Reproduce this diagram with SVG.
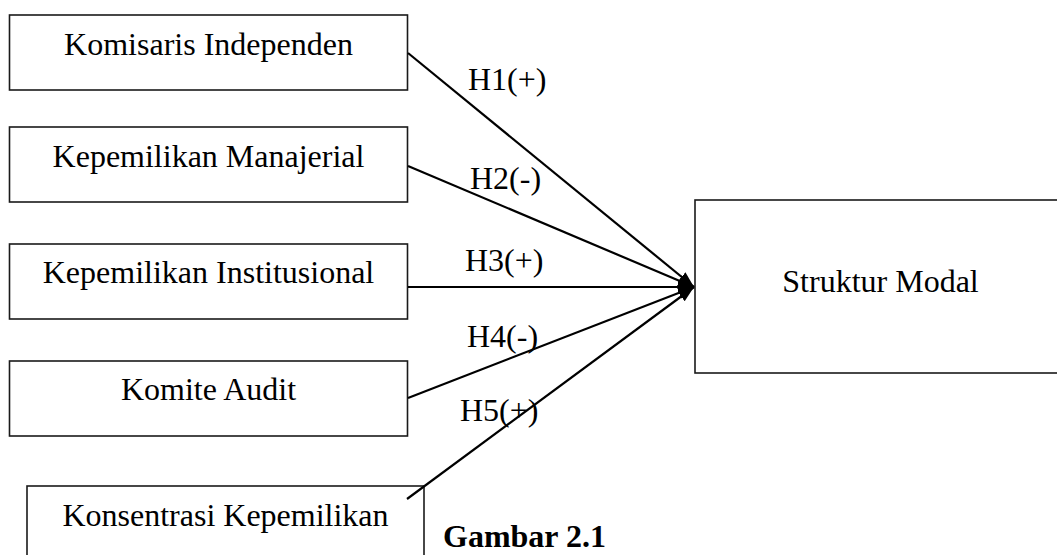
<svg xmlns="http://www.w3.org/2000/svg" width="1057" height="555" viewBox="0 0 1057 555">
<defs>
<style>
.box{fill:#fff;stroke:#1a1a1a;stroke-width:1.6}
.t{font-family:"Liberation Serif","Times New Roman",serif;font-size:32px;fill:#000}
.c{text-anchor:middle}
.b{font-weight:bold}
.ln{stroke:#000;stroke-width:2.2;fill:none}
</style>
<marker id="ah" markerUnits="userSpaceOnUse" markerWidth="18" markerHeight="14" refX="16" refY="6" orient="auto">
<path d="M0,0 L16,6 L0,12 z" fill="#000"/>
</marker>
</defs>
<rect width="1057" height="555" fill="#fff"/>
<g id="n1"><rect class="box" x="9.5" y="15" width="398" height="75"/><text class="t c" x="208.5" y="55">Komisaris Independen</text></g>
<g id="n2"><rect class="box" x="9.5" y="127" width="398" height="75"/><text class="t c" x="208.5" y="167">Kepemilikan Manajerial</text></g>
<g id="n3"><rect class="box" x="9.5" y="244" width="398" height="75"/><text class="t c" x="208.5" y="283">Kepemilikan Institusional</text></g>
<g id="n4"><rect class="box" x="9.5" y="361" width="398" height="75"/><text class="t c" x="208.5" y="400">Komite Audit</text></g>
<g id="n5"><rect class="box" x="27" y="486" width="397" height="80"/><text class="t c" x="225.5" y="526">Konsentrasi Kepemilikan</text></g>
<g id="n6"><rect class="box" x="695" y="200" width="380" height="173"/><text class="t c" x="880.5" y="292">Struktur Modal</text></g>
<g id="connectors">
<line class="ln" x1="408" y1="53" x2="694" y2="287" marker-end="url(#ah)"/>
<line class="ln" x1="408" y1="166" x2="694" y2="287" marker-end="url(#ah)"/>
<line class="ln" x1="408" y1="287" x2="694" y2="287" marker-end="url(#ah)"/>
<line class="ln" x1="408" y1="398" x2="694" y2="287" marker-end="url(#ah)"/>
<line class="ln" x1="407" y1="499" x2="694" y2="287" marker-end="url(#ah)"/>
</g>
<g id="labels">
<text class="t" x="468" y="90">H1(+)</text>
<text class="t" x="470" y="189">H2(-)</text>
<text class="t" x="465" y="271">H3(+)</text>
<text class="t" x="467" y="347">H4(-)</text>
<text class="t" x="460" y="421">H5(+)</text>
<text class="t b" x="443" y="547">Gambar 2.1</text>
</g>
</svg>
